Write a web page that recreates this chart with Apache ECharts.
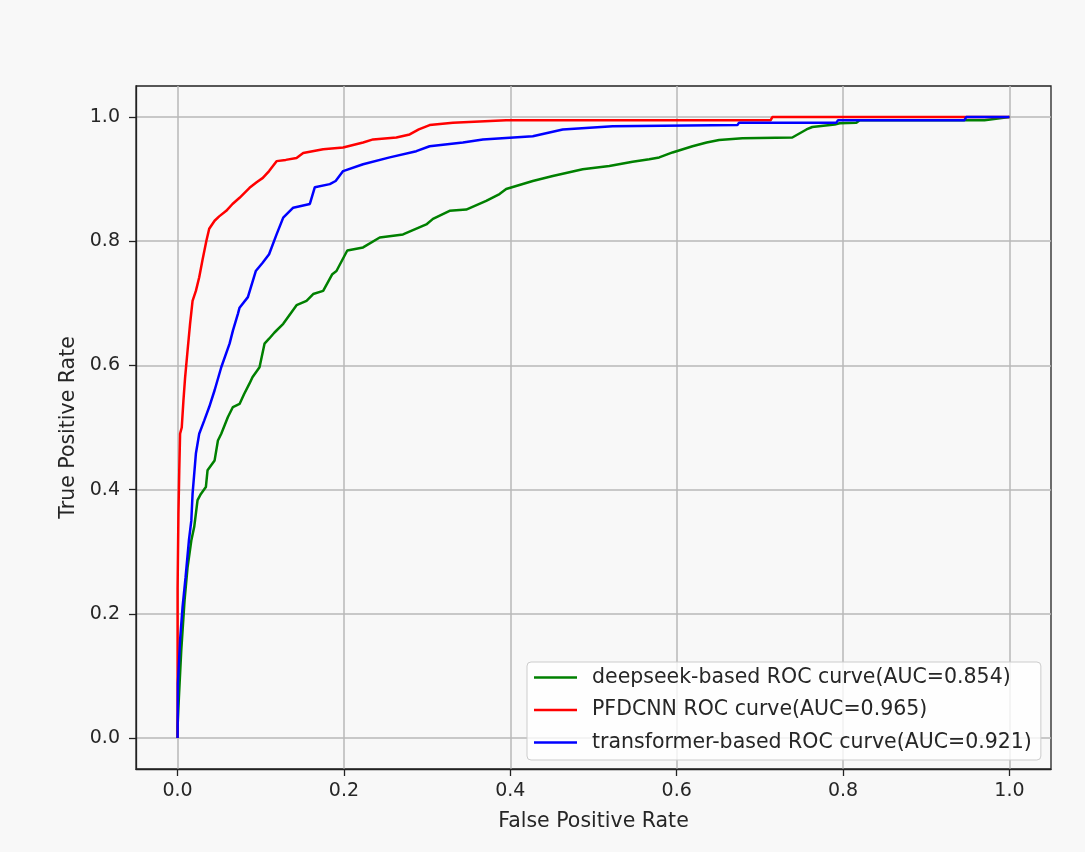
<!DOCTYPE html>
<html>
<head>
<meta charset="utf-8">
<script src="https://cdn.jsdelivr.net/npm/echarts@6/dist/echarts.min.js"></script>
<style>
html,body{margin:0;padding:0;background:#f8f8f8;}
#chart{width:1085px;height:852px;}
</style>
</head>
<body>
<div id="chart"></div>
<script>
var xTicks = [0, 0.2, 0.4, 0.6, 0.8, 1.0];
var yTicks = [0, 0.2, 0.4, 0.6, 0.8, 1.0];
var seriesNames = ['deepseek-based ROC curve(AUC=0.854)', 'PFDCNN ROC curve(AUC=0.965)', 'transformer-based ROC curve(AUC=0.921)'];

var fprDeepseek = [0,0,0.0016,0.0044,0.0084,0.012,0.0165,0.02,0.024,0.028,0.034,0.036,0.0445,0.0485,0.0525,0.0605,0.0665,0.0745,0.08,0.0865,0.09,0.0985,0.1045,0.11,0.1165,0.127,0.143,0.155,0.163,0.175,0.186,0.191,0.204,0.223,0.243,0.271,0.299,0.307,0.327,0.347,0.371,0.387,0.395,0.427,0.451,0.487,0.519,0.547,0.567,0.579,0.595,0.619,0.636,0.651,0.679,0.739,0.756,0.763,0.79,0.796,0.816,0.82,0.97,1];
var tprDeepseek = [0,0.018,0.066,0.141,0.222,0.275,0.318,0.34,0.383,0.393,0.404,0.431,0.447,0.479,0.49,0.517,0.533,0.538,0.554,0.571,0.581,0.597,0.635,0.643,0.653,0.667,0.697,0.704,0.715,0.72,0.747,0.752,0.785,0.79,0.806,0.811,0.827,0.836,0.849,0.851,0.865,0.876,0.884,0.897,0.905,0.916,0.921,0.928,0.932,0.935,0.943,0.953,0.959,0.963,0.966,0.967,0.98,0.984,0.988,0.99,0.991,0.995,0.995,1];

var fprPfdcnn = [0,0,0.001,0.002,0.003,0.005,0.007,0.009,0.012,0.015,0.018,0.022,0.026,0.030,0.0345,0.038,0.0445,0.05,0.0585,0.066,0.0745,0.0865,0.095,0.1025,0.11,0.119,0.13,0.143,0.151,0.175,0.199,0.223,0.235,0.263,0.279,0.29,0.303,0.331,0.395,0.713,0.715,1];
var tprPfdcnn = [0,0.24,0.36,0.43,0.49,0.50,0.543,0.58,0.624,0.667,0.704,0.72,0.742,0.77,0.80,0.82,0.833,0.84,0.849,0.86,0.870,0.886,0.895,0.902,0.913,0.929,0.931,0.934,0.942,0.948,0.951,0.959,0.964,0.967,0.972,0.98,0.987,0.991,0.995,0.995,1.0,1];

var fprTransformer = [0,0.0004,0.003,0.006,0.0096,0.0136,0.0165,0.018,0.022,0.026,0.032,0.038,0.0445,0.0525,0.0625,0.0665,0.0725,0.0745,0.0845,0.094,0.102,0.11,0.119,0.127,0.139,0.159,0.165,0.183,0.19,0.199,0.223,0.255,0.287,0.303,0.343,0.367,0.427,0.463,0.523,0.673,0.675,0.792,0.794,0.946,0.948,1];
var tprTransformer = [0,0.088,0.158,0.211,0.259,0.318,0.35,0.393,0.458,0.49,0.511,0.533,0.56,0.597,0.635,0.656,0.683,0.693,0.71,0.752,0.765,0.779,0.811,0.838,0.854,0.86,0.887,0.892,0.897,0.913,0.924,0.935,0.945,0.953,0.959,0.964,0.969,0.98,0.985,0.987,0.991,0.991,0.995,0.995,1.0,1];

function zip(a, b) { return a.map(function (v, i) { return [v, b[i]]; }); }

var chart = echarts.init(document.getElementById('chart'), null, {renderer: 'canvas'});
var fontFamily = 'DejaVu Sans';
function axisCommon(ticks, isX) {
  return {
    type: 'value',
    min: -0.05,
    max: 1.05,
    axisLine: {show: true, onZero: false, lineStyle: {color: '#222', width: 1.3}},
    axisTick: {show: true, length: 7, customValues: ticks, lineStyle: {color: '#222', width: 1.3}},
    axisLabel: {show: true, customValues: ticks, margin: isX ? 13 : 16, color: '#262626', fontSize: 19, fontFamily: fontFamily,
      formatter: function (v) { return v.toFixed(1); }},
    splitLine: {show: true, lineStyle: {color: '#b8b8b8', width: 1.5}},
    nameLocation: 'middle',
    nameTextStyle: {color: '#262626', fontSize: 20.5, fontFamily: fontFamily}
  };
}
var xAxis = axisCommon(xTicks, true);
xAxis.name = 'False Positive Rate';
xAxis.nameGap = 42;
var yAxis = axisCommon(yTicks, false);
yAxis.name = 'True Positive Rate';
yAxis.nameGap = 57;

var colors = ['#008000', '#ff0000', '#0000ff'];
var datas = [zip(fprDeepseek, tprDeepseek), zip(fprPfdcnn, tprPfdcnn), zip(fprTransformer, tprTransformer)];

chart.setOption({
  backgroundColor: '#f8f8f8',
  animation: false,
  grid: {left: 136, top: 86, width: 915, height: 683, show: true, borderColor: '#222', borderWidth: 1.3, backgroundColor: 'transparent'},
  xAxis: xAxis,
  yAxis: yAxis,
  legend: {
    orient: 'vertical',
    left: 527,
    top: 662,
    padding: [5, 9, 7, 7],
    itemGap: 11.5,
    itemWidth: 43,
    itemHeight: 2.5,
    backgroundColor: 'rgba(255,255,255,0.8)',
    borderColor: '#cccccc',
    borderWidth: 1,
    borderRadius: 4,
    textStyle: {fontSize: 20.5, fontFamily: fontFamily, color: '#262626', padding: [0, 0, 0, 10]},
    data: seriesNames.map(function (n, i) { return {name: n, icon: 'rect', itemStyle: {color: colors[i]}}; })
  },
  series: seriesNames.map(function (n, i) {
    return {
      name: n,
      type: 'line',
      data: datas[i],
      showSymbol: false,
      symbol: 'none',
      color: colors[i],
      lineStyle: {color: colors[i], width: 2.5},
      z: 2 + i
    };
  })
});
</script>
</body>
</html>
